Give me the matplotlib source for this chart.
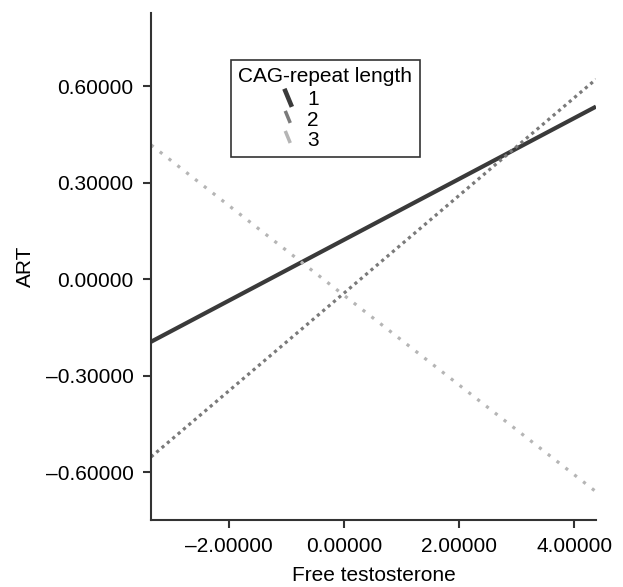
import matplotlib
matplotlib.use("Agg")
import matplotlib.pyplot as plt
from matplotlib.legend_handler import HandlerBase
from matplotlib.lines import Line2D

plt.rcParams['font.family'] = ['Liberation Sans', 'DejaVu Sans']

# data: fitted lines evaluated at the plot edges
x_vals = [-3.35, 4.375]
series_labels = ["1", "2", "3"]
y_cag1 = [-0.195, 0.536]
y_cag2 = [-0.553, 0.621]
y_cag3 = [0.417, -0.661]
yticks = [-0.6, -0.3, 0.0, 0.3, 0.6]
xticks = [-2.0, 0.0, 2.0, 4.0]


class DiagHandler(HandlerBase):
    def create_artists(self, legend, orig_handle, xdescent, ydescent,
                       width, height, fontsize, trans):
        x0 = -xdescent + width * 0.82
        x1 = -xdescent + width * 0.92
        y0 = -ydescent + height * 1.0
        y1 = -ydescent + height * 0.05
        ln = Line2D([x0, x1], [y0, y1], color=orig_handle.get_color(),
                    lw=orig_handle.get_linewidth() * 1.1,
                    linestyle=orig_handle.get_linestyle())
        ln.set_transform(trans)
        return [ln]


fig = plt.figure(figsize=(6.23, 5.87), dpi=100)
ax = fig.add_axes([151/623, (587-520)/587, 445/623, 507/587])

h1, = ax.plot(x_vals, y_cag1, color='#3a3a3a', lw=3.0, solid_capstyle='butt', label=series_labels[0])
h2, = ax.plot(x_vals, y_cag2, color='#7a7a7a', lw=2.3, linestyle=(0, (1, 1.2)), label=series_labels[1])
h3, = ax.plot(x_vals, y_cag3, color='#b5b5b5', lw=2.3, linestyle=(0, (1, 2.5)), label=series_labels[2])

ax.set_xlim(x_vals[0], x_vals[1])
ax.set_ylim(-0.749, 0.827)
ax.set_xticks(xticks)
ax.set_yticks(yticks)
ax.set_xticklabels([f"{v:.5f}".replace('-', '\u2013') for v in xticks])
ax.set_yticklabels([f"{v:.5f}".replace('-', '\u2013') for v in yticks])

for s in ['top', 'right']:
    ax.spines[s].set_visible(False)
for s in ['left', 'bottom']:
    ax.spines[s].set_linewidth(1.5)
    ax.spines[s].set_color('#333333')
ax.tick_params(axis='both', length=5.5, width=1.5, color='#333333', labelsize=15, pad=7)

ax.set_xlabel("Free testosterone", fontsize=15, labelpad=7)
ax.set_ylabel("ART", fontsize=15, labelpad=8)

leg = ax.legend(handles=[h1, h2, h3], title="CAG-repeat length", loc='upper left',
                bbox_to_anchor=((231-151)/445, (520-60)/507), borderaxespad=0,
                fontsize=15, title_fontsize=15, frameon=True, fancybox=False,
                handlelength=2.75, handletextpad=0.55, labelspacing=0.05,
                borderpad=0.35, edgecolor='black', alignment='left',
                handler_map={Line2D: DiagHandler()})
leg._legend_box.sep = 3
leg.get_frame().set_linewidth(1.2)

fig.savefig("out.png", dpi=100)
